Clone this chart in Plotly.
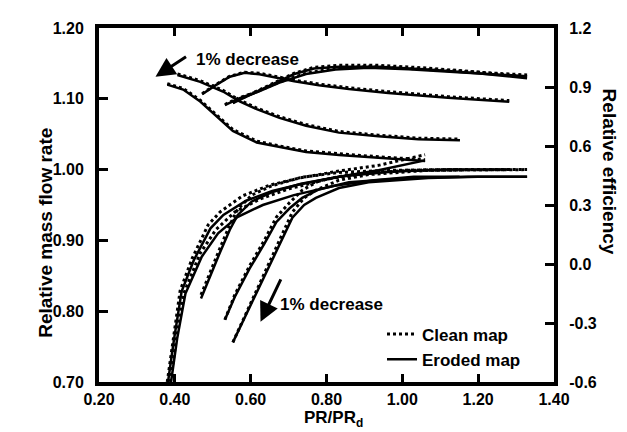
import plotly.graph_objects as go

# ---------------- Mass flow rate (left axis) ----------------
# speed line 1
s1_pr_flow_c = [0.380, 0.396, 0.414, 0.446, 0.488, 0.519, 0.579, 0.650, 0.728, 0.833, 0.937, 1.060]
s1_flow_c = [0.700, 0.761, 0.829, 0.875, 0.922, 0.940, 0.963, 0.978, 0.988, 0.998, 1.006, 1.021]
s1_pr_flow_e = [0.382, 0.398, 0.418, 0.450, 0.494, 0.528, 0.588, 0.657, 0.728, 0.833, 0.937, 1.060]
s1_flow_e = [0.700, 0.761, 0.828, 0.872, 0.917, 0.936, 0.956, 0.970, 0.979, 0.990, 0.999, 1.013]
# speed line 2
s2_pr_flow_c = [0.388, 0.404, 0.425, 0.467, 0.508, 0.558, 0.623, 0.702, 0.806, 0.911, 1.016, 1.151]
s2_flow_c = [0.700, 0.761, 0.827, 0.882, 0.915, 0.940, 0.958, 0.973, 0.987, 0.995, 0.999, 1.000]
s2_pr_flow_e = [0.390, 0.406, 0.428, 0.471, 0.514, 0.565, 0.632, 0.714, 0.820, 0.925, 1.030, 1.151]
s2_flow_e = [0.700, 0.761, 0.825, 0.877, 0.910, 0.933, 0.950, 0.964, 0.977, 0.985, 0.990, 0.990]
# speed line 3
s3_pr_flow = [0.469, 0.493, 0.519, 0.545, 0.566, 0.603, 0.655, 0.733, 0.833, 0.963, 1.120, 1.285]
s3_flow_c = [0.823, 0.856, 0.889, 0.922, 0.944, 0.964, 0.977, 0.989, 0.996, 0.999, 1.000, 1.000]
s3_flow_e = [0.818, 0.850, 0.883, 0.915, 0.936, 0.955, 0.968, 0.980, 0.990, 0.997, 1.000, 1.000]
# speed line 4
s4_pr_flow = [0.532, 0.558, 0.597, 0.637, 0.668, 0.702, 0.736, 0.780, 0.859, 1.016, 1.172, 1.329]
s4_flow_c = [0.788, 0.823, 0.864, 0.901, 0.933, 0.953, 0.971, 0.984, 0.993, 0.999, 1.000, 1.000]
s4_flow_e = [0.788, 0.820, 0.860, 0.896, 0.926, 0.945, 0.960, 0.972, 0.982, 0.988, 0.990, 0.990]
# speed line 5
s5_pr_flow = [0.553, 0.597, 0.650, 0.710, 0.741, 0.772, 0.833, 0.911, 1.068, 1.199, 1.329]
s5_flow_c = [0.756, 0.807, 0.868, 0.940, 0.960, 0.971, 0.985, 0.993, 0.999, 1.000, 1.000]
s5_flow_e = [0.756, 0.805, 0.864, 0.932, 0.950, 0.960, 0.974, 0.982, 0.988, 0.990, 0.990]

# ---------------- Efficiency (right axis) ----------------
s1_pr_eff = [0.380, 0.422, 0.467, 0.511, 0.553, 0.616, 0.676, 0.746, 0.833, 0.937, 1.060]
s1_eff_c = [0.917, 0.893, 0.833, 0.759, 0.684, 0.625, 0.600, 0.575, 0.560, 0.545, 0.530]
s1_eff_e = [0.912, 0.887, 0.826, 0.751, 0.677, 0.618, 0.594, 0.569, 0.554, 0.539, 0.524]

s2_pr_eff = [0.407, 0.467, 0.527, 0.571, 0.616, 0.676, 0.746, 0.833, 0.937, 1.042, 1.152]
s2_eff_c = [0.967, 0.932, 0.883, 0.833, 0.793, 0.749, 0.709, 0.674, 0.655, 0.640, 0.635]
s2_eff_e = [0.961, 0.926, 0.877, 0.827, 0.787, 0.743, 0.703, 0.668, 0.649, 0.634, 0.629]

s3_pr_eff = [0.472, 0.506, 0.545, 0.584, 0.623, 0.663, 0.715, 0.780, 0.859, 0.963, 1.120, 1.282]
s3_eff_c = [0.866, 0.910, 0.955, 0.975, 0.970, 0.955, 0.935, 0.915, 0.896, 0.876, 0.851, 0.831]
s3_eff_e = [0.863, 0.907, 0.952, 0.972, 0.965, 0.949, 0.929, 0.909, 0.890, 0.870, 0.845, 0.825]

s4_pr_eff = [0.532, 0.571, 0.616, 0.676, 0.746, 0.824, 0.911, 1.016, 1.147, 1.329]
s4_eff_c = [0.811, 0.846, 0.876, 0.925, 0.970, 0.995, 1.005, 0.996, 0.981, 0.961]
s4_eff_e = [0.808, 0.843, 0.873, 0.922, 0.966, 0.989, 0.998, 0.990, 0.975, 0.955]

s5_pr_eff = [0.553, 0.597, 0.650, 0.715, 0.767, 0.833, 0.937, 1.068, 1.198, 1.329]
s5_eff_c = [0.821, 0.861, 0.910, 0.970, 1.000, 1.010, 1.010, 0.996, 0.976, 0.951]
s5_eff_e = [0.818, 0.858, 0.907, 0.966, 0.994, 1.003, 1.003, 0.989, 0.970, 0.945]

x_ticks = [0.2, 0.4, 0.6, 0.8, 1.0, 1.2, 1.4]
y_ticks = [0.7, 0.8, 0.9, 1.0, 1.1, 1.2]
y2_ticks = [-0.6, -0.3, 0.0, 0.3, 0.6, 0.9, 1.2]
y2_labels = ["-0.6", "-0.3", "0.0", "0.3", "0.6", "0.9", "1.2"]

FONT = "Liberation Sans"
fig = go.Figure()

eroded = [
    (s1_pr_flow_e, s1_flow_e, "y"), (s2_pr_flow_e, s2_flow_e, "y"), (s3_pr_flow, s3_flow_e, "y"),
    (s4_pr_flow, s4_flow_e, "y"), (s5_pr_flow, s5_flow_e, "y"),
    (s1_pr_eff, s1_eff_e, "y2"), (s2_pr_eff, s2_eff_e, "y2"), (s3_pr_eff, s3_eff_e, "y2"),
    (s4_pr_eff, s4_eff_e, "y2"), (s5_pr_eff, s5_eff_e, "y2"),
]
clean = [
    (s1_pr_flow_c, s1_flow_c, "y"), (s2_pr_flow_c, s2_flow_c, "y"), (s3_pr_flow, s3_flow_c, "y"),
    (s4_pr_flow, s4_flow_c, "y"), (s5_pr_flow, s5_flow_c, "y"),
    (s1_pr_eff, s1_eff_c, "y2"), (s2_pr_eff, s2_eff_c, "y2"), (s3_pr_eff, s3_eff_c, "y2"),
    (s4_pr_eff, s4_eff_c, "y2"), (s5_pr_eff, s5_eff_c, "y2"),
]

for i, (xv, yv, ax) in enumerate(eroded):
    fig.add_trace(go.Scatter(x=xv, y=yv, yaxis=ax, mode="lines", name="Eroded map",
                             legendgroup="e", showlegend=(i == 0), legendrank=2,
                             line=dict(color="black", width=2.5)))
for i, (xv, yv, ax) in enumerate(clean):
    fig.add_trace(go.Scatter(x=xv, y=yv, yaxis=ax, mode="lines", name="Clean map",
                             legendgroup="c", showlegend=(i == 0), legendrank=1,
                             line=dict(color="black", width=3, dash="dot")))

tickfont = dict(family=FONT, size=16, color="black", weight="bold")

fig.update_layout(
    width=627, height=432,
    margin=dict(l=91, r=81, t=13, b=58),
    paper_bgcolor="white", plot_bgcolor="white",
    font=dict(family=FONT, size=16, color="black", weight="bold"),
    xaxis=dict(range=[0.2, 1.4], tickvals=x_ticks, tickformat=".2f", showgrid=False, zeroline=False,
               showline=True, linewidth=4, linecolor="black", mirror="ticks",
               ticks="inside", ticklen=8, tickwidth=3, tickcolor="black", tickfont=tickfont,
               ticklabelstandoff=0),
    yaxis=dict(range=[0.7, 1.2], tickvals=y_ticks, tickformat=".2f", showgrid=False, zeroline=False,
               showline=True, linewidth=4, linecolor="black",
               ticks="inside", ticklen=9, tickwidth=3, tickcolor="black", tickfont=tickfont,
               ticklabelstandoff=8),
    yaxis2=dict(range=[-0.6, 1.2], tickvals=y2_ticks, ticktext=y2_labels, overlaying="y", side="right",
                showgrid=False, zeroline=False, showline=True, linewidth=4, linecolor="black",
                ticks="inside", ticklen=9, tickwidth=3, tickcolor="black", tickfont=tickfont,
                ticklabelstandoff=8),
    legend=dict(x=0.622, y=0.185, xanchor="left", yanchor="top", bgcolor="rgba(0,0,0,0)",
                font=dict(family=FONT, size=17, color="black", weight="bold"), tracegroupgap=0),
    showlegend=True,
)

annfont = dict(family=FONT, size=17, color="black", weight="bold")
titlefont = dict(family=FONT, size=19, color="black", weight="bold")
fig.add_annotation(xref="paper", yref="paper", x=-0.145, y=0.42, text="Relative mass flow rate",
                   textangle=-90, showarrow=False, font=titlefont)
fig.add_annotation(xref="paper", yref="paper", x=1.150, y=0.595, text="Relative efficiency",
                   textangle=90, showarrow=False, font=titlefont)
fig.add_annotation(xref="paper", yref="paper", x=0.515, y=-0.068, yanchor="top",
                   text="PR/PR<sub>d</sub>", showarrow=False, font=annfont)
# "1% decrease" labels and arrows
fig.add_annotation(x=0.592, y=1.156, text="1% decrease", showarrow=False, font=annfont)
fig.add_annotation(x=0.349, y=1.131, ax=32, ay=-21, text="", showarrow=True,
                   arrowhead=2, arrowsize=1.3, arrowwidth=3, arrowcolor="black")
fig.add_annotation(x=0.814, y=0.809, text="1% decrease", showarrow=False, font=annfont)
fig.add_annotation(x=0.626, y=0.785, ax=21, ay=-44, text="", showarrow=True,
                   arrowhead=2, arrowsize=1.3, arrowwidth=3, arrowcolor="black")

fig.write_html("out.html")
